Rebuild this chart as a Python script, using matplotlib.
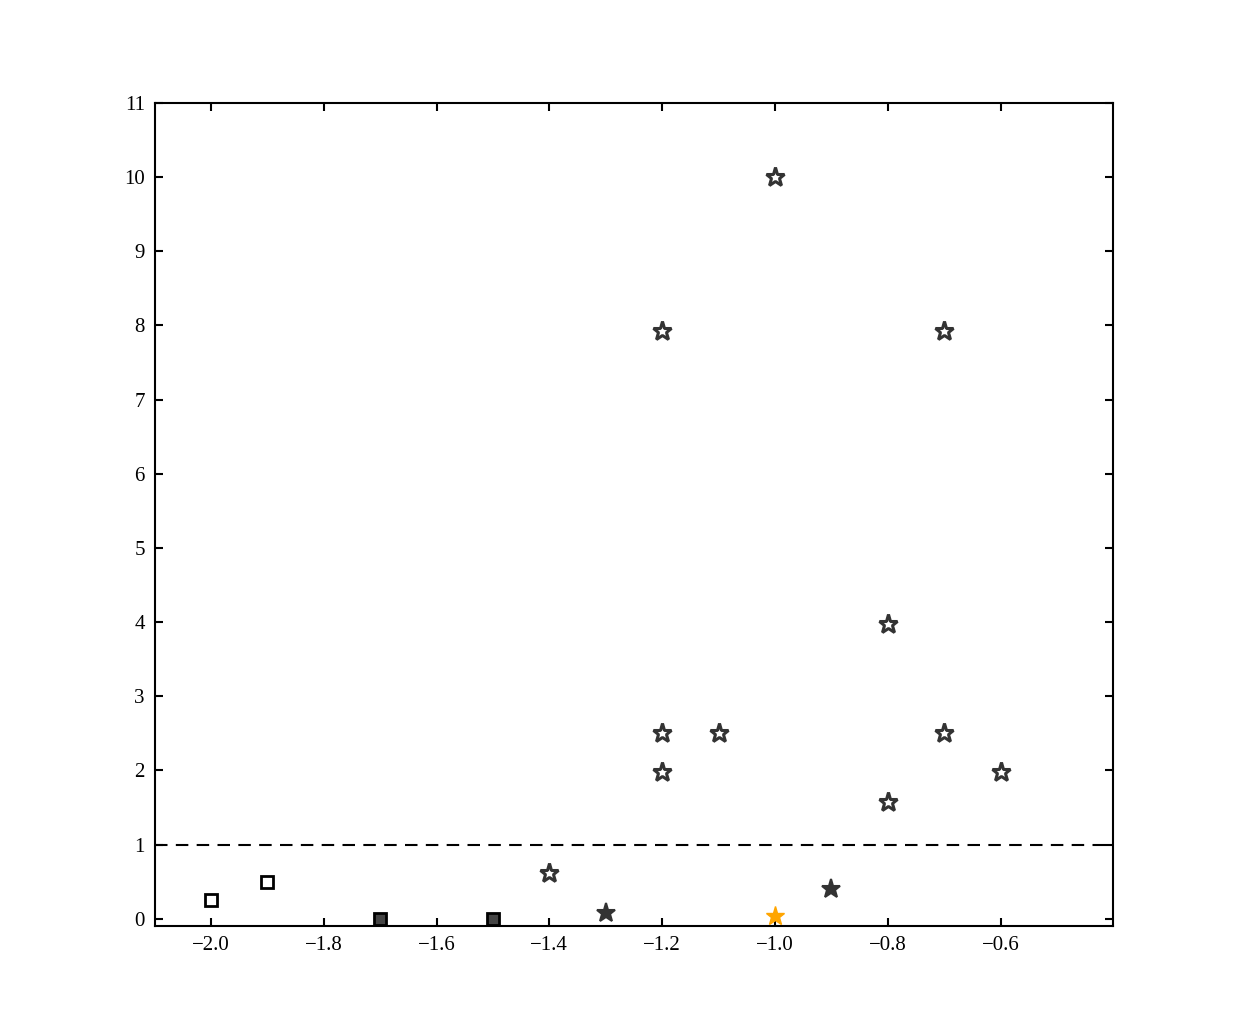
import numpy as np
import matplotlib.pyplot as plt

# open squares
sq_open_x = [-2.0, -1.9]
sq_open_y = [0.25, 0.5]
# filled squares
sq_fill_x = [-1.7, -1.5]
sq_fill_y = [0.0, 0.0]
# open stars
st_open_x = [-1.4, -1.2, -1.2, -1.2, -1.1, -1.0, -0.8, -0.8, -0.7, -0.7, -0.6]
st_open_y = [0.62, 7.93, 2.5, 1.98, 2.5, 10.0, 3.98, 1.58, 7.93, 2.5, 1.98]
# filled stars
st_fill_x = [-1.3, -0.9]
st_fill_y = [0.07, 0.40]
# highlighted star
st_hi_x = [-1.0]
st_hi_y = [0.04]
threshold = 1.0

plt.rcParams['font.family'] = ['Liberation Serif', 'DejaVu Serif']
plt.rcParams['font.size'] = 15

fig = plt.figure(figsize=(12.37, 10.29), dpi=100)
ax = fig.add_axes([0.125, 0.1, 0.775, 0.8])

dark = '#333333'
ax.plot(sq_open_x, sq_open_y, 's', ms=9, mfc='white', mec='black', mew=2, ls='none')
ax.plot(sq_fill_x, sq_fill_y, 's', ms=9, mfc='#444444', mec='black', mew=2, ls='none')
ax.plot(st_open_x, st_open_y, '*', ms=14, mfc='white', mec=dark, mew=2.2, ls='none')
ax.plot(st_fill_x, st_fill_y, '*', ms=14, mfc=dark, mec=dark, mew=1.5, ls='none')
ax.plot(st_hi_x, st_hi_y, '*', ms=14, mfc='orange', mec='orange', mew=1, ls='none', zorder=3)
ax.axhline(threshold, color='black', ls='--', lw=1.5, dashes=(6, 4))

ax.set_xlim(-2.1, -0.4)
ax.set_ylim(-0.1, 11)
ax.set_xticks(np.arange(-2.0, -0.55, 0.2))
ax.set_yticks(range(0, 12))
ax.tick_params(direction='in', top=True, right=True, length=6, width=1.5, pad=7)
for s in ax.spines.values():
    s.set_linewidth(1.5)

fig.savefig('out.png', dpi=100)
